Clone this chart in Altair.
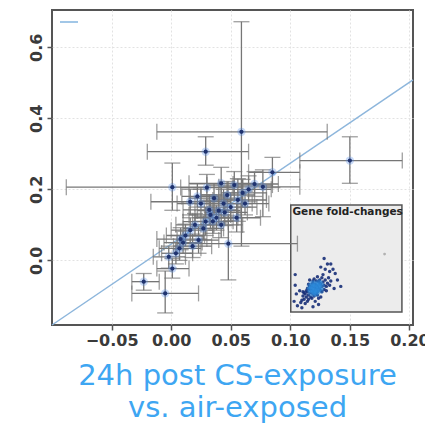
import altair as alt
import pandas as pd

# ---- main scatter: point estimates with x / y error ranges ----
x_val = [0.059, 0.029, 0.001, 0.150, 0.085, 0.077, 0.048, -0.023, -0.005, 0.001,
         0.042, 0.053, 0.056, 0.025, 0.032, 0.033, 0.029, 0.016, 0.023, 0.007,
         0.004, 0.044, 0.047, 0.036, 0.040, 0.038, 0.045, 0.050, 0.060, 0.065,
         0.070, 0.020, 0.012, 0.027, 0.035, 0.042, 0.010, 0.018, -0.002, 0.030,
         0.016, 0.022, 0.055, 0.062, 0.008]
y_val = [0.362, 0.306, 0.206, 0.281, 0.248, 0.207, 0.047, -0.060, -0.093, -0.023,
         0.217, 0.212, 0.170, 0.160, 0.142, 0.128, 0.109, 0.085, 0.057, 0.034,
         0.020, 0.160, 0.184, 0.175, 0.140, 0.120, 0.135, 0.150, 0.190, 0.200,
         0.215, 0.100, 0.070, 0.090, 0.110, 0.100, 0.050, 0.040, 0.010, 0.205,
         0.165, 0.180, 0.120, 0.160, 0.060]
x_low = [-0.012, -0.020, -0.088, 0.108, 0.065, 0.040, 0.005, -0.033, -0.033, -0.012,
         0.015, 0.030, 0.035, 0.005, 0.010, 0.015, 0.010, 0.000, 0.005, -0.010,
         -0.008, 0.020, 0.025, 0.015, 0.022, 0.020, 0.028, 0.030, 0.042, 0.048,
         0.052, 0.004, -0.004, 0.010, 0.018, 0.025, -0.006, 0.002, -0.015, 0.008,
         -0.017, 0.009, 0.040, 0.045, -0.012]
x_high = [0.131, 0.065, 0.060, 0.194, 0.108, 0.108, 0.106, -0.010, 0.023, 0.015,
          0.070, 0.085, 0.080, 0.045, 0.055, 0.050, 0.048, 0.035, 0.040, 0.025,
          0.018, 0.068, 0.070, 0.060, 0.058, 0.056, 0.064, 0.072, 0.080, 0.084,
          0.090, 0.036, 0.028, 0.044, 0.052, 0.060, 0.026, 0.034, 0.012, 0.052,
          0.050, 0.040, 0.075, 0.082, 0.030]
y_low = [0.040, 0.268, 0.141, 0.217, 0.205, 0.123, -0.055, -0.084, -0.148, -0.050,
         0.180, 0.170, 0.110, 0.120, 0.100, 0.090, 0.070, 0.050, 0.020, 0.000,
         -0.010, 0.120, 0.140, 0.130, 0.105, 0.085, 0.098, 0.112, 0.150, 0.165,
         0.180, 0.068, 0.040, 0.058, 0.076, 0.064, 0.020, 0.008, -0.022, 0.168,
         0.128, 0.150, 0.080, 0.128, 0.030]
y_high = [0.672, 0.348, 0.274, 0.348, 0.290, 0.255, 0.125, -0.037, -0.030, 0.005,
          0.262, 0.250, 0.230, 0.200, 0.185, 0.170, 0.150, 0.120, 0.095, 0.070,
          0.050, 0.200, 0.222, 0.215, 0.178, 0.155, 0.172, 0.190, 0.228, 0.238,
          0.250, 0.132, 0.102, 0.124, 0.146, 0.138, 0.082, 0.074, 0.040, 0.242,
          0.200, 0.215, 0.160, 0.195, 0.092]

# reference line
line_x = [-0.100, 0.203]
line_y = [-0.182, 0.508]

# inset "Gene fold-changes" (normalised inset coordinates 0..1)
inset_u = [0.20, 0.22, 0.24, 0.21, 0.23, 0.25, 0.19, 0.26, 0.22, 0.18, 0.20, 0.24,
           0.27, 0.17, 0.21, 0.16, 0.28, 0.25, 0.23, 0.19, 0.15, 0.18, 0.29, 0.26,
           0.30, 0.14, 0.13, 0.16, 0.31, 0.28, 0.12, 0.20, 0.33, 0.24, 0.11, 0.15,
           0.34, 0.29, 0.10, 0.22, 0.32, 0.17, 0.13, 0.36, 0.27, 0.09,
           0.21, 0.23, 0.25, 0.19, 0.17, 0.27, 0.22, 0.20, 0.26, 0.18, 0.24, 0.15,
           0.12, 0.14, 0.30, 0.32, 0.28, 0.19, 0.23, 0.11, 0.16, 0.35, 0.25, 0.21,
           0.40, 0.38, 0.33, 0.30, 0.36, 0.42, 0.45, 0.39, 0.35, 0.27, 0.31, 0.08,
           0.05, 0.04, 0.06, 0.10, 0.20, 0.25, 0.03, 0.04]
inset_v = [0.20, 0.22, 0.23, 0.24, 0.20, 0.25, 0.22, 0.22, 0.26, 0.18, 0.17, 0.19,
           0.26, 0.21, 0.15, 0.16, 0.24, 0.28, 0.17, 0.26, 0.19, 0.14, 0.28, 0.30,
           0.25, 0.14, 0.17, 0.12, 0.30, 0.32, 0.12, 0.29, 0.27, 0.33, 0.15, 0.10,
           0.32, 0.35, 0.11, 0.10, 0.20, 0.30, 0.08, 0.29, 0.14, 0.09,
           0.19, 0.25, 0.21, 0.24, 0.24, 0.20, 0.18, 0.27, 0.27, 0.21, 0.16, 0.22,
           0.18, 0.20, 0.21, 0.24, 0.19, 0.13, 0.29, 0.19, 0.26, 0.25, 0.13, 0.31,
           0.36, 0.40, 0.45, 0.50, 0.45, 0.30, 0.24, 0.22, 0.38, 0.42, 0.40, 0.20,
           0.17, 0.25, 0.06, 0.04, 0.05, 0.07, 0.10, 0.35]
inset_out_u = [0.844]
inset_out_v = [0.542]
inset_title = "Gene fold-changes"

x_ticks = [-0.05, 0.0, 0.05, 0.10, 0.15, 0.20]
y_ticks = [0.0, 0.2, 0.4, 0.6]
x_title = ["24h post CS-exposure", "vs. air-exposed"]

# ---- styling / layout constants ----
X_DOMAIN = [-0.1, 0.203]
Y_DOMAIN = [-0.182, 0.705]
IX0, IXW = 0.1004, 0.0933      # inset placement in main data units
IY0, IYH = -0.1456, 0.3014
BAR = "#767676"
FONT = "DejaVu Sans"

xs = alt.Scale(domain=X_DOMAIN, nice=False, zero=False)
ys = alt.Scale(domain=Y_DOMAIN, nice=False, zero=False)

x_axis = alt.Axis(values=x_ticks, format=".2f", title=x_title, grid=True,
                  gridColor="#e2e2e2", gridDash=[2, 2], domain=False,
                  tickSize=5, tickColor="#555", tickWidth=1.5,
                  labelFont=FONT, labelFontSize=16, labelFontWeight="bold",
                  labelColor="#3a3a3a", labelPadding=2,
                  titleFont=FONT, titleFontSize=29, titleFontWeight="normal",
                  titleColor="#3ea6f2", titleLineHeight=32,
                  titleX=185, titleY=59, titleBaseline="alphabetic",
                  titleAlign="center", titleAnchor="middle")
y_axis = alt.Axis(values=y_ticks, format=".1f", title=None, grid=True,
                  gridColor="#e2e2e2", gridDash=[2, 2], domain=False,
                  tickSize=5, tickColor="#555", tickWidth=1.5,
                  labelFont=FONT, labelFontSize=16, labelFontWeight="bold",
                  labelColor="#3a3a3a", labelAngle=270, labelAlign="center",
                  labelBaseline="bottom", labelPadding=3)


def X(f):
    return alt.X(f, type="quantitative", scale=xs, axis=x_axis)


def Y(f):
    return alt.Y(f, type="quantitative", scale=ys, axis=y_axis)


df = pd.DataFrame({"x": x_val, "y": y_val, "xlo": x_low, "xhi": x_high,
                   "ylo": y_low, "yhi": y_high})
line_df = pd.DataFrame({"x": line_x, "y": line_y})
inset_df = pd.DataFrame({"u": inset_u, "v": inset_v})
inset_out_df = pd.DataFrame({"u": inset_out_u, "v": inset_out_v})
box_df = pd.DataFrame({"u0": [0.0], "u1": [1.0], "v0": [0.0], "v1": [1.0],
                       "ut": [0.015], "vt": [0.985], "label": [inset_title]})

# inset
inset_box = alt.Chart(box_df).transform_calculate(
    bx0=f"{IX0} + datum.u0 * {IXW}", bx1=f"{IX0} + datum.u1 * {IXW}",
    by0=f"{IY0} + datum.v0 * {IYH}", by1=f"{IY0} + datum.v1 * {IYH}",
).mark_rect(fill="#ececec", stroke="#555", strokeWidth=1.5).encode(
    x=X("bx0"), x2="bx1", y=Y("by0"), y2="by1")

inset_text = alt.Chart(box_df).transform_calculate(
    tx=f"{IX0} + datum.ut * {IXW}", ty=f"{IY0} + datum.vt * {IYH}",
).mark_text(align="left", baseline="top", font=FONT, fontSize=10.5,
            fontWeight="bold", color="#222").encode(
    x=X("tx"), y=Y("ty"), text="label:N")

inset_base = alt.Chart(inset_df).transform_calculate(
    ix=f"{IX0} + datum.u * {IXW}", iy=f"{IY0} + datum.v * {IYH}")
inset_pts = inset_base.mark_circle(size=12, color="#172f78", opacity=0.9).encode(
    x=X("ix"), y=Y("iy"))
inset_glow = inset_base.transform_filter(
    "pow(datum.u - 0.225, 2) + pow(datum.v - 0.224, 2) < 0.004"
).mark_circle(size=40, color="#2f8fe0", opacity=0.35).encode(x=X("ix"), y=Y("iy"))
inset_out = alt.Chart(inset_out_df).transform_calculate(
    ix=f"{IX0} + datum.u * {IXW}", iy=f"{IY0} + datum.v * {IYH}"
).mark_circle(size=8, color="#999").encode(x=X("ix"), y=Y("iy"))

# reference line
diag = alt.Chart(line_df).mark_line(color="#8db6dc", strokeWidth=1.5).encode(
    x=X("x"), y=Y("y"))

legend_dash = alt.Chart(line_df).mark_rule(color="#9cc3e6", strokeWidth=1.5).encode(
    x=alt.value(8), x2=alt.value(26), y=alt.value(12))

base = alt.Chart(df)
xbar = base.mark_rule(color=BAR, strokeWidth=1.3).encode(x=X("xlo"), x2="xhi", y=Y("y"))
ybar = base.mark_rule(color=BAR, strokeWidth=1.3).encode(x=X("x"), y=Y("ylo"), y2="yhi")
cap_xl = base.mark_tick(orient="vertical", size=16, thickness=1.3, color=BAR).encode(
    x=X("xlo"), y=Y("y"))
cap_xh = base.mark_tick(orient="vertical", size=16, thickness=1.3, color=BAR).encode(
    x=X("xhi"), y=Y("y"))
cap_yl = base.mark_tick(orient="horizontal", size=16, thickness=1.3, color=BAR).encode(
    x=X("x"), y=Y("ylo"))
cap_yh = base.mark_tick(orient="horizontal", size=16, thickness=1.3, color=BAR).encode(
    x=X("x"), y=Y("yhi"))
halo = base.mark_circle(size=70, color="#4a86e8", opacity=0.3).encode(x=X("x"), y=Y("y"))
dots = base.mark_circle(size=18, color="#1f3370", opacity=1).encode(x=X("x"), y=Y("y"))

chart = alt.layer(
    diag, legend_dash, inset_box, inset_text, inset_pts, inset_glow, inset_out,
    xbar, ybar, cap_xl, cap_xh, cap_yl, cap_yh, halo, dots
).properties(
    width=361, height=315,
    autosize=alt.AutoSizeParams(type="none"),
    padding={"left": 52, "top": 10, "right": 12, "bottom": 100},
).configure_view(stroke="#555", strokeWidth=2)

chart.save("out.html", embed_options={"renderer": "svg", "actions": False})
